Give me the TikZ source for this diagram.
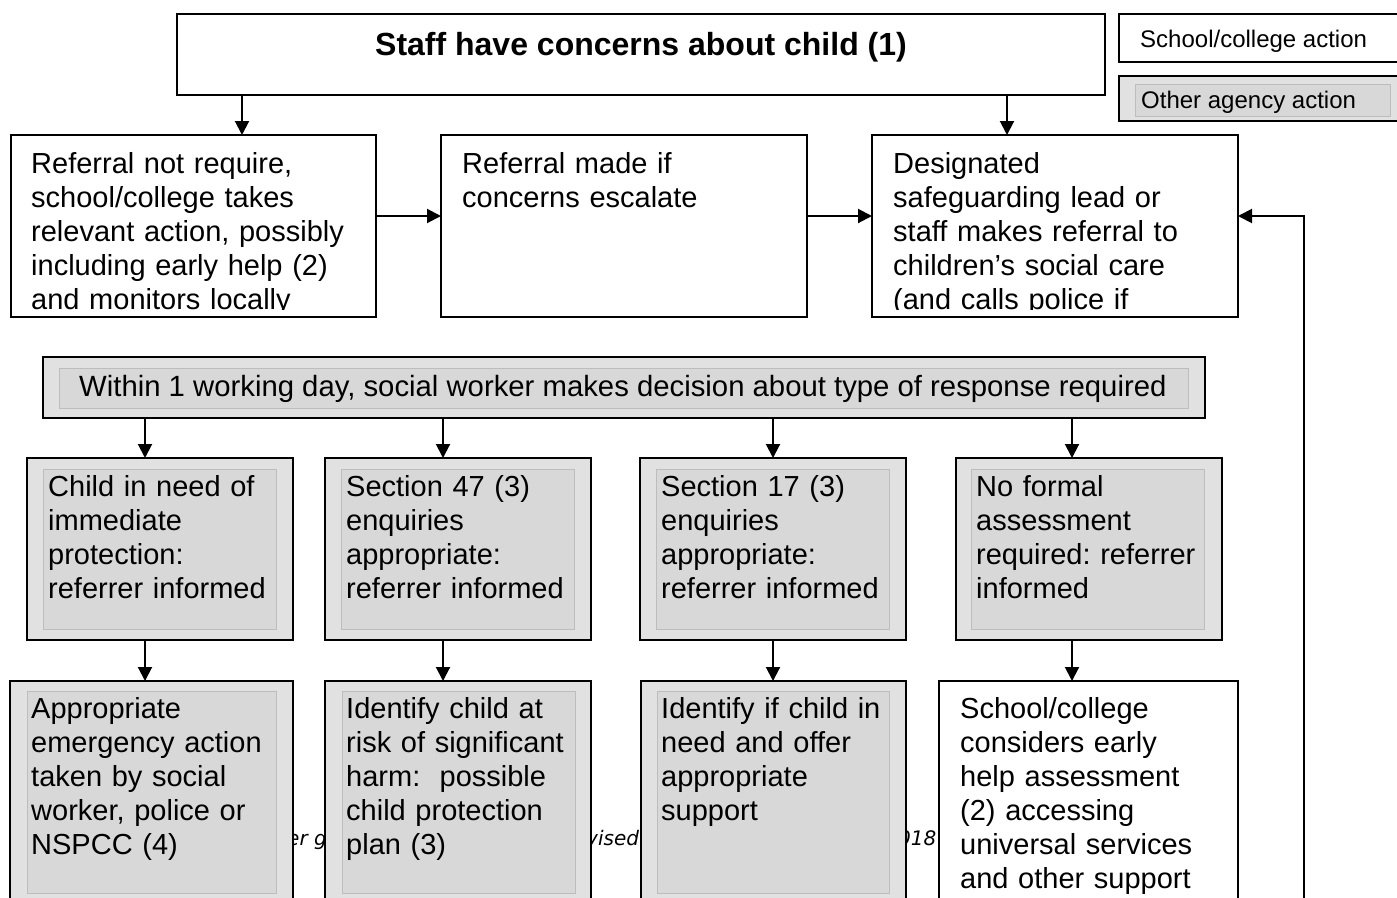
\documentclass[tikz,border=0pt]{standalone}
\usepackage{fontspec}
\setmainfont{Liberation Sans}
\newfontfamily\footfont{DejaVu Sans}
\usetikzlibrary{arrows.meta}
\frenchspacing
\definecolor{outerg}{HTML}{E1E1E1}
\definecolor{innerg}{HTML}{D8D8D8}
\definecolor{innerb}{HTML}{BDBDBD}
\tikzset{
  box/.style={draw=black, line width=2pt, rectangle, anchor=north west, inner sep=0pt, outer sep=0pt},
  wbox/.style={box, fill=white},
  gbox/.style={box, fill=outerg},
  ibox/.style={draw=innerb, line width=0.7pt, fill=innerg, rectangle, anchor=north west, inner sep=0pt, outer sep=0pt},
  txt/.style={anchor=base west, inner sep=0pt, align=left, text width=400pt, font=\fontsize{29}{34}\selectfont},
  legtxt/.style={anchor=base west, inner sep=0pt, font=\fontsize{24}{28}\selectfont},
  foot/.style={anchor=base west, inner sep=0pt, font=\footfont\itshape\fontsize{20}{24}\selectfont},
  arr/.style={line width=2pt, -{Triangle[length=14pt,width=14pt]}},
}
\begin{document}
\begin{tikzpicture}[x=1pt,y=-1pt]
\useasboundingbox (0,0) rectangle (1397,897);
\clip (0,0) rectangle (1397,897);
\fill[white] (0,0) rectangle (1397,897);

% footer fragments (behind the boxes)
\node[foot] (f1) at (287,845) {er g};
\node[foot] (f2) at (586,845) {vised};
\node[foot] (f3) at (898,845) {018};

% top box and legend
\node[wbox, minimum width=928pt, minimum height=81pt] (top) at (177,14) {};
\node[anchor=base, inner sep=0pt, font=\bfseries\fontsize{32}{36}\selectfont] (title) at (641,55) {Staff have concerns about child (1)};
\node[wbox, minimum width=300pt, minimum height=48pt] (leg1) at (1119,14) {};
\node[legtxt] (leg1t) at (1140,47) {School/college action};
\node[gbox, minimum width=300pt, minimum height=45pt] (leg2) at (1119,76) {};
\node[ibox, minimum width=255pt, minimum height=32pt] (leg2i) at (1135,84) {};
\node[legtxt] (leg2t) at (1141,108) {Other agency action};

% row 2
\node[wbox, minimum width=365pt, minimum height=182pt] (A) at (11,135) {};
\node[wbox, minimum width=366pt, minimum height=182pt] (B) at (441,135) {};
\node[wbox, minimum width=366pt, minimum height=182pt] (C) at (872,135) {};
\begin{scope}
\clip (11,135) rectangle (1238,309);
\node[txt] (At) at (31,173) {Referral not require,\\school/college takes\\relevant action, possibly\\including early help (2)\\and monitors locally};
\node[txt] (Bt) at (462,173) {Referral made if\\concerns escalate};
\node[txt] (Ct) at (893,173) {Designated\\safeguarding lead or\\staff makes referral to\\children’s social care\\(and calls police if};
\end{scope}

% decision box
\node[gbox, minimum width=1162pt, minimum height=61pt] (D) at (43,357) {};
\node[ibox, minimum width=1129pt, minimum height=40pt] (Di) at (59,368) {};
\node[anchor=base west, inner sep=0pt, font=\fontsize{29.3}{34}\selectfont] (Dt) at (79,396) {Within 1 working day, social worker makes decision about type of response required};

% row 4
\node[gbox, minimum width=266pt, minimum height=182pt] (R1) at (27,458) {};
\node[ibox, minimum width=233pt, minimum height=160pt] (R1i) at (43,469) {};
\node[gbox, minimum width=266pt, minimum height=182pt] (R2) at (325,458) {};
\node[ibox, minimum width=233pt, minimum height=160pt] (R2i) at (341,469) {};
\node[gbox, minimum width=266pt, minimum height=182pt] (R3) at (640,458) {};
\node[ibox, minimum width=233pt, minimum height=160pt] (R3i) at (656,469) {};
\node[gbox, minimum width=266pt, minimum height=182pt] (R4) at (956,458) {};
\node[ibox, minimum width=233pt, minimum height=160pt] (R4i) at (971,469) {};
\node[txt] (R1t) at (48,496) {Child in need of\\immediate\\protection:\\referrer informed};
\node[txt] (R2t) at (346,496) {Section 47 (3)\\enquiries\\appropriate:\\referrer informed};
\node[txt] (R3t) at (661,496) {Section 17 (3)\\enquiries\\appropriate:\\referrer informed};
\node[txt] (R4t) at (976,496) {No formal\\assessment\\required: referrer\\informed};

% bottom row
\node[gbox, minimum width=283pt, minimum height=240pt] (S1) at (10,681) {};
\node[ibox, minimum width=249pt, minimum height=202pt] (S1i) at (27,691) {};
\node[gbox, minimum width=266pt, minimum height=240pt] (S2) at (325,681) {};
\node[ibox, minimum width=233pt, minimum height=202pt] (S2i) at (342,691) {};
\node[gbox, minimum width=265pt, minimum height=240pt] (S3) at (641,681) {};
\node[ibox, minimum width=232pt, minimum height=202pt] (S3i) at (657,691) {};
\node[wbox, minimum width=299pt, minimum height=240pt] (S4) at (939,681) {};
\node[txt] (S1t) at (31,718) {Appropriate\\emergency action\\taken by social\\worker, police or\\NSPCC (4)};
\node[txt] (S2t) at (346,718) {Identify child at\\risk of significant\\harm:~ possible\\child protection\\plan (3)};
\node[txt] (S3t) at (661,718) {Identify if child in\\need and offer\\appropriate\\support};
\node[txt] (S4t) at (960,718) {School/college\\considers early\\help assessment\\(2) accessing\\universal services\\and other support};

% connector coordinates
\coordinate (xa) at (242,0);
\coordinate (xc) at (1007,0);
\coordinate (yr) at (0,216);
\coordinate (x1) at (145,0);
\coordinate (x2) at (443,0);
\coordinate (x3) at (773,0);
\coordinate (x4) at (1072,0);
\coordinate (loopbot) at (1304,910);

% connectors
\draw[arr] (top.south -| xa) -- (A.north -| xa);
\draw[arr] (top.south -| xc) -- (C.north -| xc);
\draw[arr] (A.east |- yr) -- (B.west |- yr);
\draw[arr] (B.east |- yr) -- (C.west |- yr);
\draw[arr] (loopbot) |- (C.east |- yr);
\draw[arr] (D.south -| x1) -- (R1.north -| x1);
\draw[arr] (D.south -| x2) -- (R2.north -| x2);
\draw[arr] (D.south -| x3) -- (R3.north -| x3);
\draw[arr] (D.south -| x4) -- (R4.north -| x4);
\draw[arr] (R1.south -| x1) -- (S1.north -| x1);
\draw[arr] (R2.south -| x2) -- (S2.north -| x2);
\draw[arr] (R3.south -| x3) -- (S3.north -| x3);
\draw[arr] (R4.south -| x4) -- (S4.north -| x4);
\end{tikzpicture}
\end{document}
